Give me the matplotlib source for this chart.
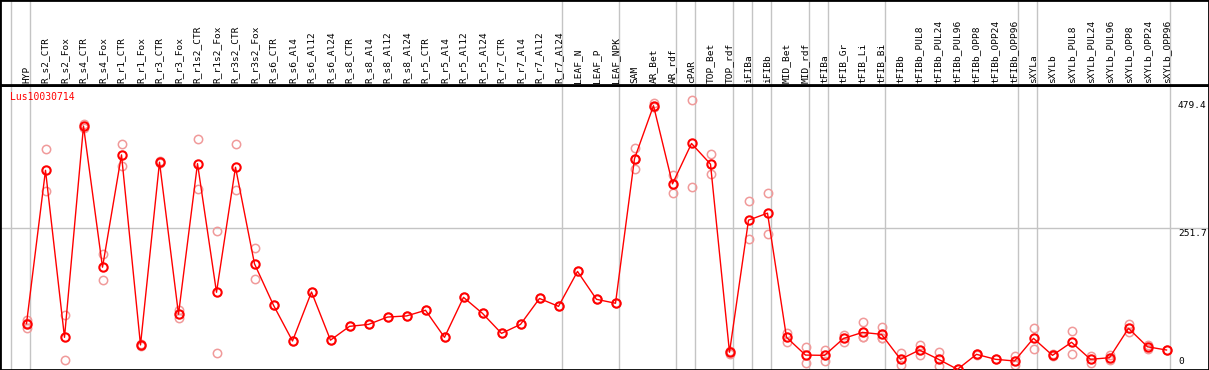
"""
Expression profile of Lus10030714 across tissues/treatments.
Mean per sample (red line) with individual replicates (pink circles).
"""
import numpy as np
import matplotlib
matplotlib.use("Agg")
import matplotlib.pyplot as plt
from matplotlib.transforms import offset_copy

plt.rcParams["font.family"] = "DejaVu Sans Mono"

GENE = "Lus10030714"

samples = [
    "HYP", "R_s2_CTR", "R_s2_Fox", "R_s4_CTR", "R_s4_Fox", "R_r1_CTR", "R_r1_Fox",
    "R_r3_CTR", "R_r3_Fox", "R_r1s2_CTR", "R_r1s2_Fox", "R_r3s2_CTR", "R_r3s2_Fox",
    "R_s6_CTR", "R_s6_Al4", "R_s6_Al12", "R_s6_Al24", "R_s8_CTR", "R_s8_Al4",
    "R_s8_Al12", "R_s8_Al24", "R_r5_CTR", "R_r5_Al4", "R_r5_Al12", "R_r5_Al24",
    "R_r7_CTR", "R_r7_Al4", "R_r7_Al12", "R_r7_Al24", "LEAF_N", "LEAF_P", "LEAF_NPK",
    "SAM", "AR_Bet", "AR_rdf", "cPAR", "TOP_Bet", "TOP_rdf", "iFIBa", "iFIBb",
    "MID_Bet", "MID_rdf", "tFIBa", "tFIB_Gr", "tFIB_Li", "tFIB_Bi", "tFIBb",
    "tFIBb_PUL8", "tFIBb_PUL24", "tFIBb_PUL96", "tFIBb_OPP8", "tFIBb_OPP24",
    "tFIBb_OPP96", "sXYLa", "sXYLb", "sXYLb_PUL8", "sXYLb_PUL24", "sXYLb_PUL96",
    "sXYLb_OPP8", "sXYLb_OPP24", "sXYLb_OPP96",
]

means = [
    82.3, 354.5, 58, 433, 182.5, 382, 44.5, 369, 99, 366.5, 138, 360, 188.5,
    115, 51.5, 138.5, 53, 77.5, 81, 94, 96, 106, 58, 129, 100.5, 65, 81, 127, 113,
    175, 125.5, 118.5,
    375.3, 469.3, 330.5, 402.2, 365.5, 31.5, 266, 278.5, 58, 26.5, 26, 56, 66.8,
    63.3, 19, 35.5, 19, 1.2, 27.8, 19, 16, 56.2, 26, 49.2, 19, 21.8, 74, 41.2, 35.5,
]

# individual replicates (nan = no replicate)
nan = np.nan
rep_a = [
    89, 392, 98, 436, 206, 402, 47, 371, 106, 411, 246, 401, 216,
    115, 51.5, 138.5, 53, 77.5, 81, 94, 96, 106, 58, 129, 100.5, 65, 81, 127, 113,
    175, 125.5, 118.5,
    393.5, 473.5, 346, 479.4, 383, 34, 300, 315, 66, 40, 36, 62, 84.5,
    77, 30, 44, 31.5, 1.2, 29, 19, 24, 74.5, 28, 70, 25, 26.5, 81, 44.5, 35.5,
]
rep_b = [
    83, 317, 18, 430, 159, 362, 42, 367, 92, 322, 30, 319, 161,
    nan, nan, nan, nan, nan, nan, nan, nan, nan, nan, nan, nan, nan, nan, nan, nan,
    nan, nan, nan,
    357.5, 467.5, 315, 325, 348, 29, 232, 242, 50, 13, 16, 50, 58,
    56, 8, 27, 6.5, nan, 26.5, nan, 8, 38, 24, 28.5, 13, 17, 67, 38, nan,
]
rep_c = [
    75, nan, nan, nan, nan, nan, nan, nan, nan, nan, nan, nan, nan,
    nan, nan, nan, nan, nan, nan, nan, nan, nan, nan, nan, nan, nan, nan, nan, nan,
    nan, nan, nan,
    375, 467, nan, nan, nan, nan, nan, nan, nan, nan, nan, nan, 58,
    57, nan, nan, nan, nan, nan, nan, nan, nan, nan, nan, nan, nan, nan, nan, nan,
]

# group separators are drawn just after these sample indices
group_ends = [-1, 0, 28, 31, 34, 35, 37, 38, 39, 41, 42, 45, 52, 53, 60]

y_ticks = [0, 251.7, 479.4]

RED = "#ff0000"
PINK = "#f09a9a"
GRID = "#c4c4c4"

W, H = 1209, 370
HEADER = 85
fig = plt.figure(figsize=(W / 100, H / 100), dpi=100)
ax = fig.add_axes([0, 0, 1, (H - HEADER) / H])
axh = fig.add_axes([0, (H - HEADER) / H, 1, HEADER / H])

x = np.arange(len(samples))
col_w = 19.0
xlim = (-26.5 / col_w, (W - 26.5) / col_w)
ymax = max(y_ticks)
ylim = (0, ymax * (H - HEADER) / 270.0)

for a in (ax, axh):
    a.set_xlim(*xlim)
    a.set_xticks([])
    a.set_yticks([])
    for sp in a.spines.values():
        sp.set_color("black")
        sp.set_linewidth(2)
    for g in group_ends:
        a.axvline(g + 0.21, color=GRID, linewidth=1, zorder=0)

ax.set_ylim(*ylim)
axh.set_ylim(0, HEADER)

ax.axhline(251.7, color=GRID, linewidth=1, zorder=0)

# replicates
for reps in (rep_a, rep_b, rep_c):
    ax.plot(x, reps, linestyle="none", marker="o", markersize=6,
            markerfacecolor="none", markeredgecolor=PINK, markeredgewidth=1.1,
            zorder=2, clip_on=False)

ax.plot(x, means, color=RED, linewidth=1, marker="o", markersize=6,
        markerfacecolor="none", markeredgecolor=RED, markeredgewidth=1.5,
        zorder=3)

# column labels
for xi, name in zip(x, samples):
    axh.text(xi, 2.3, name, rotation=90, ha="center", va="bottom",
             fontsize=6.8, color="black")

# value labels on the right
lab_x = 1178 / W
for v in y_ticks:
    if v == 0:
        tr = offset_copy(ax.get_yaxis_transform(), fig=fig, y=4, units="dots")
        ax.text(lab_x, v, "0", transform=tr, ha="left", va="bottom", fontsize=6.8)
    else:
        tr = offset_copy(ax.get_yaxis_transform(), fig=fig, y=-1, units="dots")
        ax.text(lab_x, v, f"{v:.1f}", transform=tr, ha="left", va="top", fontsize=6.8)

ax.text(10 / W, 1 - 11.7 / (H - HEADER), GENE, transform=ax.transAxes,
        ha="left", va="center", color=RED, fontsize=7)

fig.savefig("out.png", dpi=100)
plt.close(fig)
